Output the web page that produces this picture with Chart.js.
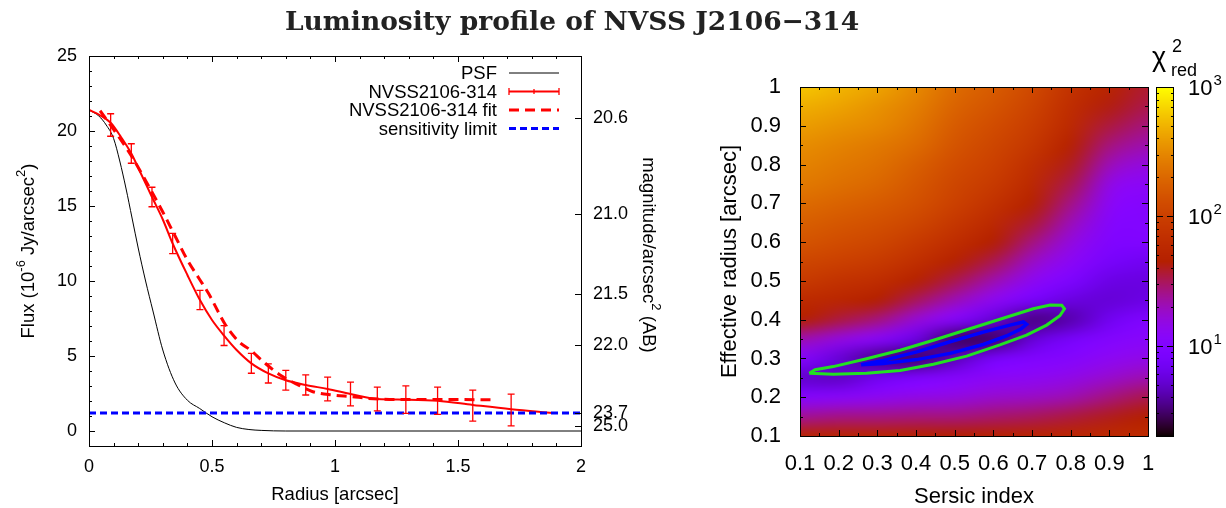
<!DOCTYPE html>
<html>
<head>
<meta charset="utf-8">
<script src="https://cdn.jsdelivr.net/npm/chart.js@4"></script>
<style>
  body { margin: 0; background: #fff; }
  #page { position: relative; width: 1226px; height: 508px; overflow: hidden; background: #fff; }
  #title { position: absolute; left: 0; top: 5px; width: 1144px; text-align: center;
           font: bold 26.5px "DejaVu Serif", serif; color: #222; }
  #c1 { position: absolute; left: 0; top: 0; }
  #c2 { position: absolute; left: 700px; top: 0; }
</style>
</head>
<body>
<div id="page">
  <canvas id="c1" width="700" height="508"></canvas>
  <canvas id="c2" width="526" height="508"></canvas>
  <div id="title">Luminosity profile of NVSS J2106−314</div>
</div>
<script>
const FONT = '"Liberation Sans", Arial, sans-serif';

// ---- Left panel: radial profile ----
const psfX = [0, 0.04, 0.07, 0.1, 0.125, 0.15, 0.175, 0.2, 0.23, 0.26, 0.3, 0.35, 0.4, 0.45, 0.5, 0.55, 0.6, 0.65, 0.7, 0.8, 1.0, 1.5, 2.0];
const psfY = [21.4, 21.0, 20.4, 19.5, 18.0, 16.2, 14.2, 12.2, 10.0, 8.0, 5.4, 3.2, 2.05, 1.5, 0.95, 0.55, 0.24, 0.1, 0.04, 0, 0, 0, 0];

const profX = [0.088, 0.172, 0.256, 0.340, 0.451, 0.549, 0.660, 0.729, 0.800, 0.881, 0.970, 1.063, 1.172, 1.288, 1.417, 1.560, 1.716];
const profY = [20.4, 18.5, 15.6, 12.5, 8.73, 6.36, 4.51, 3.84, 3.38, 3.07, 2.8, 2.47, 2.13, 2.09, 2.02, 1.69, 1.4];
const profErr = [0.75, 0.65, 0.65, 0.67, 0.64, 0.66, 0.66, 0.64, 0.66, 0.67, 0.79, 0.79, 0.79, 0.92, 0.91, 1.03, 1.06];

const curveX = [0, 0.04, 0.088, 0.13, 0.172, 0.21, 0.256, 0.3, 0.34, 0.4, 0.451, 0.5, 0.549, 0.6, 0.66, 0.729, 0.8, 0.881, 0.97, 1.063, 1.172, 1.288, 1.417, 1.56, 1.716, 1.883];
const curveY = [21.4, 21.1, 20.55, 19.6, 18.5, 17.2, 15.6, 14.1, 12.5, 10.4, 8.73, 7.4, 6.36, 5.4, 4.51, 3.84, 3.38, 3.07, 2.8, 2.47, 2.13, 2.09, 2.02, 1.74, 1.45, 1.2];

const fitX = [0.045, 0.1, 0.17, 0.25, 0.3, 0.353, 0.4, 0.446, 0.485, 0.555, 0.609, 0.656, 0.71, 0.78, 0.85, 0.91, 0.99, 1.07, 1.13, 1.25, 1.45, 1.64];
const fitY = [21.35, 20.1, 18.4, 16.1, 14.6, 12.9, 11.4, 10.2, 9.2, 7.07, 5.96, 5.4, 4.6, 3.7, 3.07, 2.62, 2.4, 2.29, 2.18, 2.1, 2.1, 2.08];

const sensLimit = 1.2;
const radiusTicks = [0, 0.5, 1, 1.5, 2];
const fluxTicks = [0, 5, 10, 15, 20, 25];
const magLabels = [20.6, 21.0, 21.5, 22.0, 23.7, 25.0];

// ---- Right panel: reduced chi-square map ----
const sersicTicks = [0.1, 0.2, 0.3, 0.4, 0.5, 0.6, 0.7, 0.8, 0.9, 1];
const reffTicks = [0.1, 0.2, 0.3, 0.4, 0.5, 0.6, 0.7, 0.8, 0.9, 1];
const sersicNodes = [0.1, 0.2, 0.3, 0.4, 0.5, 0.6, 0.7, 0.8, 0.9, 1.0];
const reffNodes = [0.1, 0.15, 0.2, 0.25, 0.3, 0.35, 0.4, 0.45, 0.5, 0.55, 0.6, 0.65, 0.7, 0.75, 0.8, 0.85, 0.9, 0.95, 1.0];
// one row per effective radius (bottom to top), one value per Sersic index
const chi2 = [
  [51, 51, 51, 48, 45, 48, 51, 54, 58, 61],
  [24, 26, 26, 27, 27, 29, 31, 35, 40, 45],
  [10.7, 11.4, 12.9, 14.6, 15.5, 17.6, 18.7, 21, 27, 33],
  [5.1, 4.8, 6.9, 8.9, 10.7, 12.2, 12.9, 14.6, 17.6, 21],
  [10.7, 5.5, 3.5, 3.0, 4.5, 7.9, 9.5, 10.7, 12.9, 14.6],
  [21, 15.5, 11.4, 6.1, 3.0, 3.0, 5.4, 7.9, 10.1, 11.4],
  [45, 35, 27, 16.5, 10.7, 5.4, 3.4, 4.2, 6.9, 9.5],
  [61, 54, 45, 31, 20, 12.9, 7.9, 5.8, 5.4, 6.1],
  [89, 74, 65, 48, 33, 21, 12.9, 8.9, 6.1, 5.8],
  [113, 101, 89, 69, 48, 33, 18.7, 12.2, 7.9, 6.9],
  [146, 128, 113, 89, 65, 45, 27, 15.5, 9.5, 9.5],
  [176, 155, 137, 113, 83, 58, 37, 20, 10.7, 10.1],
  [211, 187, 165, 137, 101, 74, 48, 26, 12.2, 10.7],
  [255, 225, 199, 155, 113, 89, 58, 33, 14.6, 12.2],
  [289, 255, 225, 176, 128, 101, 69, 40, 20, 15.5],
  [328, 289, 255, 211, 146, 113, 83, 48, 27, 21],
  [396, 350, 308, 240, 165, 128, 95, 58, 35, 27],
  [475, 421, 350, 271, 187, 146, 107, 65, 42, 33],
  [606, 508, 421, 308, 211, 165, 121, 74, 51, 37]
];
const outerX = [0.124, 0.139, 0.186, 0.272, 0.359, 0.445, 0.531, 0.617, 0.703, 0.747, 0.777, 0.784, 0.772, 0.738, 0.686, 0.617, 0.531, 0.445, 0.359, 0.272, 0.186];
const outerY = [0.262, 0.271, 0.279, 0.299, 0.321, 0.347, 0.374, 0.401, 0.428, 0.438, 0.437, 0.428, 0.410, 0.386, 0.360, 0.335, 0.306, 0.285, 0.269, 0.262, 0.259];
const innerX = [0.258, 0.316, 0.402, 0.488, 0.574, 0.643, 0.678, 0.686, 0.671, 0.634, 0.574, 0.488, 0.402, 0.316];
const innerY = [0.284, 0.295, 0.317, 0.343, 0.368, 0.386, 0.394, 0.388, 0.376, 0.358, 0.336, 0.313, 0.297, 0.287];
const cbMin = 2, cbMax = 1000;

Chart.defaults.font.family = FONT;
Chart.defaults.color = '#000';

function magToFlux(m) { return Math.pow(10, (23.9 - m) / 2.5); }
function pts(xs, ys) { return xs.map((x, i) => ({ x: x, y: ys[i] })); }
function loop(xs, ys) { const p = pts(xs, ys); p.push(p[0]); return p; }

// gnuplot rgbformulae 7,5,15 on a log colour axis
function palette(v) {
  let p = (Math.log10(v) - Math.log10(cbMin)) / (Math.log10(cbMax) - Math.log10(cbMin));
  p = Math.min(1, Math.max(0, p));
  return [Math.sqrt(p), p * p * p, Math.max(0, Math.sin(2 * Math.PI * p))].map(c => Math.round(c * 255));
}

function richText(ctx, parts, cx, cy, angle, size) {
  ctx.save();
  ctx.translate(cx, cy);
  ctx.rotate(angle);
  ctx.fillStyle = '#000';
  ctx.textBaseline = 'alphabetic';
  ctx.textAlign = 'left';
  let w = 0;
  parts.forEach(p => { ctx.font = (p[1] ? size * 0.7 : size) + 'px ' + FONT; w += ctx.measureText(p[0]).width; });
  let x = -w / 2;
  parts.forEach(p => {
    ctx.font = (p[1] ? size * 0.7 : size) + 'px ' + FONT;
    ctx.fillText(p[0], x, size * 0.36 - (p[1] ? size * 0.45 : 0));
    x += ctx.measureText(p[0]).width;
  });
  ctx.restore();
}

function line(ctx, x1, y1, x2, y2) { ctx.moveTo(x1, y1); ctx.lineTo(x2, y2); }
const crisp = v => Math.round(v) + 0.5;

// ---- left chart ----
const fluxPanel = {
  id: 'fluxPanel',
  afterDatasetsDraw(chart) {
    const { ctx, chartArea: a, scales: { x, y } } = chart;
    ctx.save();
    // error bars
    ctx.strokeStyle = '#ff0000';
    ctx.lineWidth = 1.3;
    ctx.beginPath();
    chart.getDatasetMeta(2).data.forEach((pt, i) => {
      const yt = y.getPixelForValue(profY[i] + profErr[i]);
      const yb = y.getPixelForValue(profY[i] - profErr[i]);
      line(ctx, pt.x, yt, pt.x, yb);
      line(ctx, pt.x - 3.5, yt, pt.x + 3.5, yt);
      line(ctx, pt.x - 3.5, yb, pt.x + 3.5, yb);
    });
    ctx.stroke();

    // frame and inward ticks
    ctx.strokeStyle = '#000';
    ctx.lineWidth = 1;
    ctx.strokeRect(crisp(a.left), crisp(a.top), Math.round(a.width), Math.round(a.height));
    ctx.beginPath();
    for (let v = 0; v <= 2.0001; v += 0.1) {
      const px = crisp(x.getPixelForValue(v));
      const len = Math.abs(v * 2 - Math.round(v * 2)) < 1e-6 ? 6 : 3;
      line(ctx, px, a.bottom, px, a.bottom - len);
      line(ctx, px, a.top, px, a.top + len);
    }
    for (let v = -1; v <= 25; v += 1) {
      const py = crisp(y.getPixelForValue(v));
      line(ctx, a.left, py, a.left + (v % 5 === 0 ? 6 : 3), py);
    }
    magLabels.forEach(m => {
      const py = crisp(y.getPixelForValue(magToFlux(m)));
      line(ctx, a.right, py, a.right - 6, py);
    });
    ctx.stroke();
    ctx.restore();
  },
  afterDraw(chart) {
    const { ctx, chartArea: a } = chart;
    ctx.save();
    // legend
    const tx = a.left + 408, s0 = a.left + 420, s1 = a.left + 470;
    const rows = [0, 2, 3, 4];
    ctx.font = '18.5px ' + FONT;
    ctx.textAlign = 'right';
    ctx.textBaseline = 'middle';
    rows.forEach((di, k) => {
      const ds = chart.data.datasets[di];
      const ly = a.top + 17 + k * 18.5;
      ctx.fillStyle = '#000';
      ctx.fillText(ds.label, tx, ly + 1);
      ctx.strokeStyle = ds.borderColor;
      ctx.lineWidth = ds.borderWidth;
      ctx.setLineDash(ds.borderDash || []);
      ctx.beginPath();
      line(ctx, s0, ly, s1, ly);
      ctx.stroke();
      ctx.setLineDash([]);
      if (di === 2) {
        ctx.lineWidth = 1.3;
        ctx.beginPath();
        line(ctx, s0, ly - 3.5, s0, ly + 3.5);
        line(ctx, s1, ly - 3.5, s1, ly + 3.5);
        line(ctx, (s0 + s1) / 2, ly - 2.5, (s0 + s1) / 2, ly + 2.5);
        ctx.stroke();
      }
    });
    // axis titles
    ctx.fillStyle = '#000';
    ctx.font = '18.5px ' + FONT;
    ctx.textAlign = 'center';
    ctx.textBaseline = 'alphabetic';
    ctx.fillText('Radius [arcsec]', (a.left + a.right) / 2, 500);
    richText(ctx, [['Flux (10', 0], ['-6', 1], [' Jy/arcsec', 0], ['2', 1], [')', 0]], 27, 251, -Math.PI / 2, 18.5);
    richText(ctx, [['magnitude/arcsec', 0], ['2', 1], [' (AB)', 0]], 650, 255, Math.PI / 2, 18.5);
    ctx.restore();
  }
};

new Chart(document.getElementById('c1'), {
  type: 'scatter',
  data: {
    datasets: [
      { label: 'PSF', data: pts(psfX, psfY), showLine: true, borderColor: '#000', borderWidth: 1,
        pointRadius: 0, cubicInterpolationMode: 'monotone', order: 3 },
      { label: 'NVSS2106-314 curve', data: pts(curveX, curveY), showLine: true, borderColor: '#ff0000', borderWidth: 2,
        pointRadius: 0, cubicInterpolationMode: 'monotone', order: 1 },
      { label: 'NVSS2106-314', data: pts(profX, profY), showLine: false, borderColor: '#ff0000', borderWidth: 2,
        pointRadius: 0, order: 0 },
      { label: 'NVSS2106-314 fit', data: pts(fitX, fitY), showLine: true, borderColor: '#ff0000', borderWidth: 3,
        borderDash: [10, 6], pointRadius: 0, cubicInterpolationMode: 'monotone', order: 2 },
      { label: 'sensitivity limit', data: [{ x: 0, y: sensLimit }, { x: 2, y: sensLimit }], showLine: true,
        borderColor: '#0000ff', borderWidth: 3, borderDash: [7, 4], pointRadius: 0, order: 0 }
    ]
  },
  options: {
    responsive: false,
    animation: false,
    devicePixelRatio: 1,
    layout: { padding: { top: 56, left: 0, right: 0, bottom: 0 } },
    plugins: { legend: { display: false }, tooltip: { enabled: false } },
    scales: {
      x: {
        type: 'linear', min: 0, max: 2,
        grid: { display: false, drawTicks: false }, border: { display: false },
        afterBuildTicks: s => { s.ticks = radiusTicks.map(v => ({ value: v })); },
        afterFit: s => { s.height = 62; },
        ticks: { padding: 10, font: { size: 18 }, color: '#000', maxRotation: 0, callback: v => String(v) }
      },
      y: {
        type: 'linear', min: -1, max: 25,
        grid: { display: false, drawTicks: false }, border: { display: false },
        afterBuildTicks: s => { s.ticks = fluxTicks.map(v => ({ value: v })); },
        afterFit: s => { s.width = 89; },
        ticks: { padding: 12, font: { size: 18 }, color: '#000', callback: v => String(v) }
      },
      y2: {
        type: 'linear', position: 'right', min: -1, max: 25,
        grid: { display: false, drawTicks: false }, border: { display: false },
        afterBuildTicks: s => { s.ticks = magLabels.map(m => ({ value: magToFlux(m) })); },
        afterFit: s => { s.width = 119; },
        ticks: { padding: 12, autoSkip: false, font: { size: 18 }, color: '#000',
                 callback: (v, i) => magLabels[i].toFixed(1) }
      }
    }
  },
  plugins: [fluxPanel]
});

// ---- right chart ----
const heat = document.createElement('canvas');
heat.width = sersicNodes.length;
heat.height = reffNodes.length;
(function () {
  const hctx = heat.getContext('2d');
  const img = hctx.createImageData(heat.width, heat.height);
  chi2.forEach((row, j) => row.forEach((v, i) => {
    const k = ((heat.height - 1 - j) * heat.width + i) * 4;
    const c = palette(v);
    img.data[k] = c[0]; img.data[k + 1] = c[1]; img.data[k + 2] = c[2]; img.data[k + 3] = 255;
  }));
  hctx.putImageData(img, 0, 0);
})();

const chiPanel = {
  id: 'chiPanel',
  beforeDatasetsDraw(chart) {
    const { ctx, chartArea: a, scales: { x, y } } = chart;
    const hx = (sersicNodes[1] - sersicNodes[0]) / 2, hy = (reffNodes[1] - reffNodes[0]) / 2;
    const x0 = x.getPixelForValue(sersicNodes[0] - hx);
    const x1 = x.getPixelForValue(sersicNodes[sersicNodes.length - 1] + hx);
    const y0 = y.getPixelForValue(reffNodes[reffNodes.length - 1] + hy);
    const y1 = y.getPixelForValue(reffNodes[0] - hy);
    ctx.save();
    ctx.beginPath();
    ctx.rect(a.left, a.top, a.width, a.height);
    ctx.clip();
    ctx.imageSmoothingEnabled = true;
    ctx.imageSmoothingQuality = 'high';
    ctx.drawImage(heat, x0, y0, x1 - x0, y1 - y0);
    ctx.restore();
  },
  afterDatasetsDraw(chart) {
    const { ctx, chartArea: a, scales: { x, y, cb } } = chart;
    ctx.save();
    ctx.strokeStyle = '#000';
    ctx.lineWidth = 1;
    ctx.strokeRect(crisp(a.left), crisp(a.top), Math.round(a.width), Math.round(a.height));
    ctx.beginPath();
    for (let k = 0; k <= 18; k++) {
      const v = 0.1 + k * 0.05;
      const len = k % 2 === 0 ? 6 : 3;
      const px = crisp(x.getPixelForValue(v));
      line(ctx, px, a.bottom, px, a.bottom - len);
      line(ctx, px, a.top, px, a.top + len);
      const py = crisp(y.getPixelForValue(v));
      line(ctx, a.left, py, a.left + len, py);
      line(ctx, a.right, py, a.right - len, py);
    }
    ctx.stroke();

    // colour box
    const bx = Math.round(a.right) + 8, bw = 18;
    for (let py = Math.floor(cb.top); py < Math.ceil(cb.bottom); py++) {
      const c = palette(cb.getValueForPixel(py + 0.5));
      ctx.fillStyle = 'rgb(' + c.join(',') + ')';
      ctx.fillRect(bx, py, bw, 1);
    }
    ctx.strokeRect(bx + 0.5, crisp(cb.top), bw - 1, Math.round(cb.bottom - cb.top));
    ctx.beginPath();
    [1, 10, 100].forEach(d => {
      for (let m = 1; m <= 9; m++) {
        const v = m * d;
        if (v < cbMin || v > cbMax) continue;
        const py = crisp(cb.getPixelForValue(v));
        const len = m === 1 ? 7 : 3;
        line(ctx, bx, py, bx + len, py);
        line(ctx, bx + bw, py, bx + bw - len, py);
      }
    });
    ctx.stroke();
    ctx.fillStyle = '#000';
    ctx.textAlign = 'left';
    ctx.textBaseline = 'alphabetic';
    [10, 100, 1000].forEach(v => {
      const py = cb.getPixelForValue(v);
      ctx.font = '22px ' + FONT;
      ctx.fillText('10', bx + 32, py + 8);
      const w = ctx.measureText('10').width;
      ctx.font = '15px ' + FONT;
      ctx.fillText(String(Math.round(Math.log10(v))), bx + 32 + w + 1, py - 2);
    });
    ctx.restore();
  },
  afterDraw(chart) {
    const { ctx, chartArea: a } = chart;
    ctx.save();
    ctx.fillStyle = '#000';
    ctx.font = '22px ' + FONT;
    ctx.textAlign = 'center';
    ctx.textBaseline = 'alphabetic';
    ctx.fillText('Sersic index', (a.left + a.right) / 2, 503);
    richText(ctx, [['Effective radius [arcsec]', 0]], 28, (a.top + a.bottom) / 2, -Math.PI / 2, 22);
    // colour box title
    const bx = Math.round(a.right) + 8;
    ctx.textAlign = 'left';
    ctx.font = '27px ' + FONT;
    ctx.fillText('χ', bx - 4, 66);
    ctx.font = '18px ' + FONT;
    ctx.fillText('2', bx + 16, 52);
    ctx.fillText('red', bx + 15, 76);
    ctx.restore();
  }
};

new Chart(document.getElementById('c2'), {
  type: 'scatter',
  data: {
    datasets: [
      { label: 'inner', data: loop(innerX, innerY), showLine: true, borderColor: '#0000ff', borderWidth: 3.5,
        pointRadius: 0, tension: 0 },
      { label: 'outer', data: loop(outerX, outerY), showLine: true, borderColor: '#22e022', borderWidth: 3,
        pointRadius: 0, tension: 0 }
    ]
  },
  options: {
    responsive: false,
    animation: false,
    devicePixelRatio: 1,
    layout: { padding: { top: 87, left: 0, right: 0, bottom: 0 } },
    plugins: { legend: { display: false }, tooltip: { enabled: false } },
    scales: {
      x: {
        type: 'linear', min: 0.1, max: 1,
        grid: { display: false, drawTicks: false }, border: { display: false },
        afterBuildTicks: s => { s.ticks = sersicTicks.map(v => ({ value: v })); },
        afterFit: s => { s.height = 72; },
        ticks: { padding: 15, font: { size: 22 }, color: '#000', maxRotation: 0, autoSkip: false,
                 callback: (v, i) => String(sersicTicks[i]) }
      },
      y: {
        type: 'linear', min: 0.1, max: 1,
        grid: { display: false, drawTicks: false }, border: { display: false },
        afterBuildTicks: s => { s.ticks = reffTicks.map(v => ({ value: v })); },
        afterFit: s => { s.width = 100; },
        ticks: { padding: 19, font: { size: 22 }, color: '#000', autoSkip: false,
                 callback: (v, i) => String(reffTicks[i]) }
      },
      cb: {
        type: 'logarithmic', position: 'right', axis: 'y', min: cbMin, max: cbMax,
        grid: { display: false, drawTicks: false }, border: { display: false },
        ticks: { display: false },
        afterFit: s => { s.width = 78; }
      }
    }
  },
  plugins: [chiPanel]
});
</script>
</body>
</html>
